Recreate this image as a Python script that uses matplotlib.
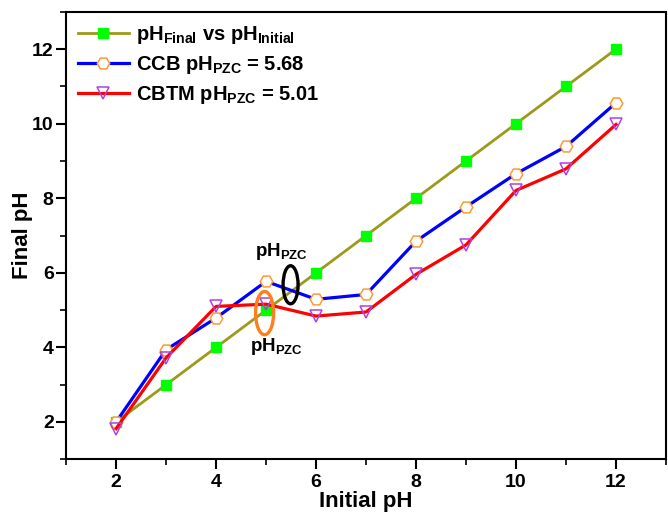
import matplotlib.pyplot as plt
from matplotlib.patches import Ellipse
from matplotlib.ticker import MultipleLocator

# Dados
ph_inicial = [2, 3, 4, 5, 6, 7, 8, 9, 10, 11, 12]
ph_final = [2, 3, 4, 5, 6, 7, 8, 9, 10, 11, 12]
ccb = [2.0, 3.94, 4.79, 5.77, 5.29, 5.42, 6.85, 7.77, 8.66, 9.39, 10.56]
cbtm = [1.82, 3.72, 5.1, 5.16, 4.84, 4.95, 5.96, 6.75, 8.21, 8.79, 9.98]

plt.rcParams['font.family'] = ['Liberation Sans', 'DejaVu Sans']
plt.rcParams['font.weight'] = 'bold'
plt.rcParams['mathtext.fontset'] = 'custom'
plt.rcParams['mathtext.rm'] = 'Liberation Sans:bold'
plt.rcParams['mathtext.default'] = 'rm'

fig = plt.figure(figsize=(6.68, 5.16), dpi=100)
ax = fig.add_axes([0.099, 0.110, 0.898, 0.867])

ax.plot(ph_inicial, ph_final, color='#9c9a1c', lw=2, marker='s', ms=7.5,
        mfc='#00ff00', mec='#00ff00', label=r'pH$_{\rm Final}$ vs pH$_{\rm Initial}$', zorder=3)
ax.plot(ph_inicial, ccb, color='#0000ff', lw=2.3, marker='H', ms=9,
        mfc='white', mec='#ff9933', mew=1.1, label=r'CCB pH$_{\rm PZC}$ = 5.68', zorder=4)
ax.plot(ph_inicial, cbtm, color='#ff0000', lw=2.3, marker='v', ms=9,
        mfc='none', mec='#b040e0', mew=1.1, label=r'CBTM pH$_{\rm PZC}$ = 5.01', zorder=5)

# Elipses marcando o pH_PZC
ax.add_patch(Ellipse((5.49, 5.68), 0.3, 1.02, fill=False, ec='black', lw=2.4, zorder=6))
ax.add_patch(Ellipse((4.97, 4.92), 0.36, 1.16, fill=False, ec='#ff7f1e', lw=2.4, zorder=6))
ax.text(5.3, 6.58, r'pH$_{\rm PZC}$', ha='center', va='center', fontsize=13.5, fontweight='bold')
ax.text(5.2, 4.02, r'pH$_{\rm PZC}$', ha='center', va='center', fontsize=13.5, fontweight='bold')

ax.set_xlim(1, 13)
ax.set_ylim(1, 13)
ax.xaxis.set_major_locator(MultipleLocator(2))
ax.xaxis.set_minor_locator(MultipleLocator(1))
ax.yaxis.set_major_locator(MultipleLocator(2))
ax.yaxis.set_minor_locator(MultipleLocator(1))
ax.tick_params(which='major', direction='out', length=7, width=1.5, labelsize=14)
ax.tick_params(axis='y', which='major', pad=2)
ax.tick_params(which='minor', direction='out', length=4, width=1.2)
for s in ax.spines.values():
    s.set_linewidth(1.5)

ax.set_xlabel('Initial pH', fontsize=16, fontweight='bold', labelpad=0)
ax.set_ylabel('Final pH', fontsize=16, fontweight='bold')
ax.yaxis.set_label_coords(-0.055, 0.5)

ax.legend(loc='upper left', frameon=False, fontsize=14.5, handlelength=2.5,
          handletextpad=0.35, borderaxespad=0.2, labelspacing=0.4)

plt.savefig('out.png', dpi=100)
